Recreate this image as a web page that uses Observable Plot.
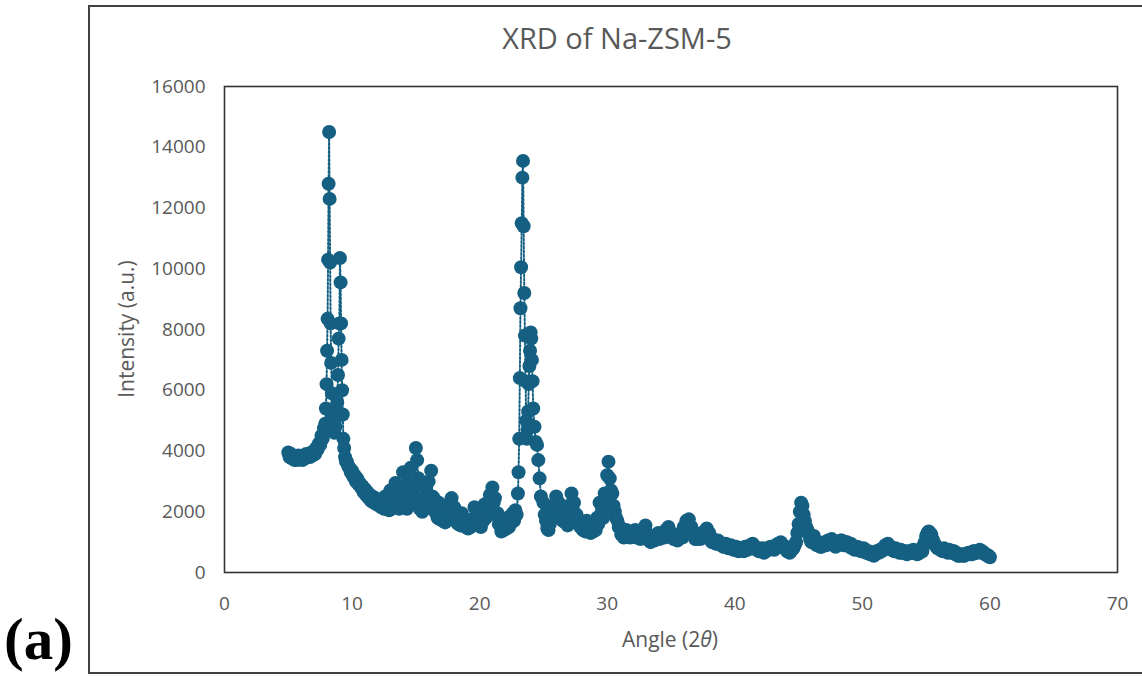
<!DOCTYPE html>
<html>
<head>
<meta charset="utf-8">
<script src="https://cdn.jsdelivr.net/npm/d3@7"></script>
<script src="https://cdn.jsdelivr.net/npm/@observablehq/plot@0.6"></script>
<style>
  html, body { margin: 0; padding: 0; background: #fff; }
  #wrap { position: relative; width: 1142px; height: 677px; overflow: hidden; font-family: "Open Sans", "Noto Sans", sans-serif; color: #595959; }
  #border { position: absolute; left: 88px; top: 5px; width: 1058px; height: 669px; border: 2px solid #404040; box-sizing: border-box; }
  #title { position: absolute; left: 88px; width: 1058px; top: 18px; text-align: center; font-size: 29px; line-height: 40px; }
  #chart { position: absolute; left: 0; top: 60px; }
  #xlabel { position: absolute; left: 670px; top: 639px; transform: translate(-50%, -50%); font-size: 21px; white-space: nowrap; }
  #ylabel { position: absolute; left: 126px; top: 329px; transform: translate(-50%, -50%) rotate(-90deg); font-size: 21px; white-space: nowrap; }
  #panel { position: absolute; left: 4px; top: 610px; font-family: "Liberation Serif", "Times New Roman", serif; font-weight: bold; font-size: 59px; line-height: 59px; color: #000; }
</style>
</head>
<body>
<div id="wrap">
  <div id="border"></div>
  <div id="title">XRD of Na-ZSM-5</div>
  <div id="chart"></div>
  <div id="ylabel">Intensity (a.u.)</div>
  <div id="xlabel">Angle (2<i>θ</i>)</div>
  <div id="panel">(a)</div>
</div>
<script>
// ---- Data ----
const xTicks = [0, 10, 20, 30, 40, 50, 60, 70];
const yTicks = [0, 2000, 4000, 6000, 8000, 10000, 12000, 14000, 16000];

// low-angle background, 5.0 - 7.8
const angleA = [5.0,5.1,5.2,5.3,5.4,5.5,5.6,5.7,5.8,5.9,
  6.0,6.1,6.2,6.3,6.4,6.5,6.6,6.7,6.8,6.9,
  7.0,7.1,7.2,7.3,7.4,7.5,7.6,7.7,7.8];
const intensityA = [3950,3800,3900,3750,3850,3700,3800,3700,3850,3750,
  3800,3700,3850,3750,3900,3800,3850,3800,3950,3850,
  4000,3900,4100,4050,4250,4200,4500,4400,4750];

// twin peaks near 8-9 degrees
const angleB = [7.9,7.95,8.0,8.04,8.08,8.12,8.16,8.2,8.24,8.28,8.32,8.36,8.42,8.48,8.55,8.62,8.7,8.78,8.84,8.9,8.95,9.0,9.05,9.1,9.14,9.18,9.22,9.27,9.32,9.38,9.45,9.52];
const intensityB = [4900,5400,6200,7300,8350,10300,12800,14500,12300,10200,8200,6900,5900,5200,4800,4600,4800,5100,5600,6500,7700,8200,10350,9550,8200,7000,6000,5200,4400,4100,3800,3650];

// 9.6 - 23.0 degrees
const angleC = [9.6,9.7,9.8,9.9,10.0,10.1,10.2,10.3,10.4,10.5,
  10.6,10.7,10.8,10.9,11.0,11.1,11.2,11.3,11.4,11.5,
  11.6,11.7,11.8,11.9,12.0,12.1,12.2,12.3,12.4,12.5,
  12.6,12.7,12.8,12.9,13.0,13.1,13.2,13.3,13.4,13.5,
  13.6,13.7,13.8,13.9,14.0,14.1,14.2,14.3,14.4,14.5,
  14.6,14.7,14.8,14.9,15.0,15.1,15.2,15.3,15.4,15.5,
  15.6,15.7,15.8,15.9,16.0,16.1,16.2,16.3,16.4,16.5,
  16.6,16.7,16.8,16.9,17.0,17.1,17.2,17.3,17.4,17.5,
  17.6,17.7,17.8,17.9,18.0,18.1,18.2,18.3,18.4,18.5,
  18.6,18.7,18.8,18.9,19.0,19.1,19.2,19.3,19.4,19.5,
  19.6,19.7,19.8,19.9,20.0,20.1,20.2,20.3,20.4,20.5,
  20.6,20.7,20.8,20.9,21.0,21.1,21.2,21.3,21.4,21.5,
  21.6,21.7,21.8,21.9,22.0,22.1,22.2,22.3,22.4,22.5,
  22.6,22.7,22.8,22.9,23.0];
const intensityC = [3650,3500,3450,3300,3350,3150,3200,3000,3100,2900,
  2950,2800,2850,2650,2750,2550,2650,2450,2550,2350,
  2500,2300,2450,2250,2400,2200,2350,2150,2300,2100,
  2500,2150,2300,2050,2700,2100,2400,2150,2950,2200,
  2500,2100,2800,2300,3300,2200,2600,2100,3050,2400,
  3450,2300,2700,3000,4100,3700,3100,2100,2400,2000,
  2850,2100,2300,2600,3000,2200,3350,2500,2450,2000,
  2100,1800,2300,1750,1950,1700,1850,1650,2050,1800,
  2250,1900,2450,1900,2150,1700,1850,1600,1750,1550,
  1950,1600,1700,1500,1700,1450,1600,1500,1750,1600,
  2150,1650,1850,1550,1650,1500,1950,1700,2250,1800,
  2050,1900,2550,2100,2800,2300,2450,1900,1950,1600,
  1550,1350,1550,1400,1750,1450,1600,1500,1850,1650,
  1950,1700,2050,1900,2600];

// strong peaks near 23-24 degrees
const angleD = [23.05,23.1,23.15,23.2,23.25,23.3,23.35,23.4,23.45,23.5,
  23.55,23.6,23.65,23.7,23.75,23.8,23.85,23.9,23.95,24.0,
  24.05,24.1,24.15,24.2,24.3,24.4,24.5,24.6,24.7,24.8];
const intensityD = [3300,4400,6400,8700,10050,11500,13000,13550,11400,9200,
  7800,6300,5000,4400,4700,5300,6200,6800,7300,7900,
  7700,7000,6300,5400,4800,4300,4200,3700,3100,2500];

// 25.0 - 44.9 degrees
const angleE = [25.0,25.1,25.2,25.3,25.4,25.5,25.6,25.7,25.8,25.9,
  26.0,26.1,26.2,26.3,26.4,26.5,26.6,26.7,26.8,26.9,
  27.0,27.1,27.2,27.3,27.4,27.5,27.6,27.7,27.8,27.9,
  28.0,28.1,28.2,28.3,28.4,28.5,28.6,28.7,28.8,28.9,
  29.0,29.1,29.2,29.3,29.4,29.5,29.6,29.7,29.8,29.9,
  30.0,30.1,30.2,30.3,30.4,30.5,30.6,30.7,30.8,30.9,
  31.0,31.1,31.2,31.3,31.4,31.5,31.6,31.7,31.8,31.9,
  32.0,32.1,32.2,32.3,32.4,32.5,32.6,32.7,32.8,32.9,
  33.0,33.1,33.2,33.3,33.4,33.5,33.6,33.7,33.8,33.9,
  34.0,34.1,34.2,34.3,34.4,34.5,34.6,34.7,34.8,34.9,
  35.0,35.1,35.2,35.3,35.4,35.5,35.6,35.7,35.8,35.9,
  36.0,36.1,36.2,36.3,36.4,36.5,36.6,36.7,36.8,36.9,
  37.0,37.1,37.2,37.3,37.4,37.5,37.6,37.7,37.8,37.9,
  38.0,38.1,38.2,38.3,38.4,38.5,38.6,38.7,38.8,38.9,
  39.0,39.1,39.2,39.3,39.4,39.5,39.6,39.7,39.8,39.9,
  40.0,40.1,40.2,40.3,40.4,40.5,40.6,40.7,40.8,40.9,
  41.0,41.1,41.2,41.3,41.4,41.5,41.6,41.7,41.8,41.9,
  42.0,42.1,42.2,42.3,42.4,42.5,42.6,42.7,42.8,42.9,
  43.0,43.1,43.2,43.3,43.4,43.5,43.6,43.7,43.8,43.9,
  44.0,44.1,44.2,44.3,44.4,44.5,44.6,44.7,44.8,44.9];
const intensityE = [2300,1900,1700,1450,1400,1600,1750,2000,2200,1900,
  2500,2100,2300,1800,2000,1700,2050,1650,1700,1550,
  2200,1800,2600,2100,2300,1800,1900,1600,1700,1500,
  1550,1400,1500,1350,1700,1400,1550,1300,1450,1350,
  1500,1400,1800,1600,2300,1900,2100,1800,2600,2400,
  3200,3650,3100,2700,2600,2200,2000,1800,1700,1500,
  1500,1250,1300,1150,1250,1400,1200,1300,1150,1350,
  1200,1350,1400,1150,1300,1200,1100,1250,1400,1200,
  1550,1300,1200,1050,1000,1150,1200,1050,1100,1250,
  1300,1100,1150,1250,1300,1150,1400,1250,1500,1300,
  1300,1150,1100,1250,1200,1050,1100,1200,1300,1150,
  1500,1350,1700,1550,1750,1500,1500,1300,1200,1100,
  1100,1200,1250,1100,1300,1150,1200,1350,1450,1250,
  1300,1100,1000,1100,1050,950,950,1050,1000,900,
  900,850,850,950,900,800,800,900,850,750,
  750,850,800,700,750,800,800,700,850,800,
  750,850,900,800,950,850,850,750,750,700,
  700,800,750,650,700,800,800,750,850,800,
  800,750,900,850,950,900,1000,850,900,800,
  800,700,750,650,700,800,800,900,1000,1300];

// 45.0 - 60.0 degrees
const angleF = [45.0,45.1,45.2,45.3,45.4,45.5,45.6,45.7,45.8,45.9,
  46.0,46.1,46.2,46.3,46.4,46.5,46.6,46.7,46.8,46.9,
  47.0,47.1,47.2,47.3,47.4,47.5,47.6,47.7,47.8,47.9,
  48.0,48.1,48.2,48.3,48.4,48.5,48.6,48.7,48.8,48.9,
  49.0,49.1,49.2,49.3,49.4,49.5,49.6,49.7,49.8,49.9,
  50.0,50.1,50.2,50.3,50.4,50.5,50.6,50.7,50.8,50.9,
  51.0,51.1,51.2,51.3,51.4,51.5,51.6,51.7,51.8,51.9,
  52.0,52.1,52.2,52.3,52.4,52.5,52.6,52.7,52.8,52.9,
  53.0,53.1,53.2,53.3,53.4,53.5,53.6,53.7,53.8,53.9,
  54.0,54.1,54.2,54.3,54.4,54.5,54.6,54.7,54.8,54.9,
  55.0,55.1,55.2,55.3,55.4,55.5,55.6,55.7,55.8,55.9,
  56.0,56.1,56.2,56.3,56.4,56.5,56.6,56.7,56.8,56.9,
  57.0,57.1,57.2,57.3,57.4,57.5,57.6,57.7,57.8,57.9,
  58.0,58.1,58.2,58.3,58.4,58.5,58.6,58.7,58.8,58.9,
  59.0,59.1,59.2,59.3,59.4,59.5,59.6,59.7,59.8,59.9,
  60.0];
const intensityF = [1600,2000,2300,2200,1900,1700,1500,1400,1300,1100,
  1000,1150,1200,950,900,1000,950,850,850,950,
  1000,900,900,1050,1050,950,1100,1000,950,850,
  900,1000,950,1050,1050,900,900,1000,1000,900,
  850,950,800,850,750,800,850,750,800,700,
  700,800,750,650,650,700,600,650,650,550,
  600,700,700,650,750,700,800,750,900,850,
  950,850,850,750,750,700,800,700,700,650,
  750,650,650,700,700,600,650,700,700,650,
  750,650,650,600,700,650,750,700,900,1000,
  1200,1300,1350,1300,1250,1100,1000,900,850,800,
  800,750,750,700,800,700,700,650,750,700,
  650,700,700,600,600,550,550,600,600,550,
  550,600,600,650,650,600,600,700,700,650,
  650,700,750,700,700,650,600,600,550,550,
  500];

const angle = [...angleA, ...angleB, ...angleC, ...angleD, ...angleE, ...angleF];
const intensity = [...intensityA, ...intensityB, ...intensityC, ...intensityD, ...intensityE, ...intensityF];
const data = angle.map((a, i) => ({angle: a, intensity: intensity[i]}));

const color = "#156082";

const chart = Plot.plot({
  width: 1142,
  height: 617,
  marginLeft: 224,
  marginRight: 25,
  marginTop: 26,
  marginBottom: 105,
  style: {fontFamily: "'Open Sans', 'Noto Sans', sans-serif", fontSize: "19px", color: "#595959", background: "transparent", overflow: "visible"},
  x: {domain: [0, 70], ticks: xTicks, tickFormat: d => String(d), tickSize: 0, tickPadding: 24, label: null},
  y: {domain: [0, 16000], ticks: yTicks, tickFormat: d => String(d), tickSize: 0, tickPadding: 19, label: null},
  marks: [
    Plot.line(data, {x: "angle", y: "intensity", stroke: color, strokeWidth: 2, strokeDasharray: "2,2"}),
    Plot.dot(data, {x: "angle", y: "intensity", r: 7, fill: color, stroke: "none"}),
    Plot.frame({stroke: "#333", strokeWidth: 1.6})
  ]
});
document.getElementById("chart").appendChild(chart);
</script>
</body>
</html>
